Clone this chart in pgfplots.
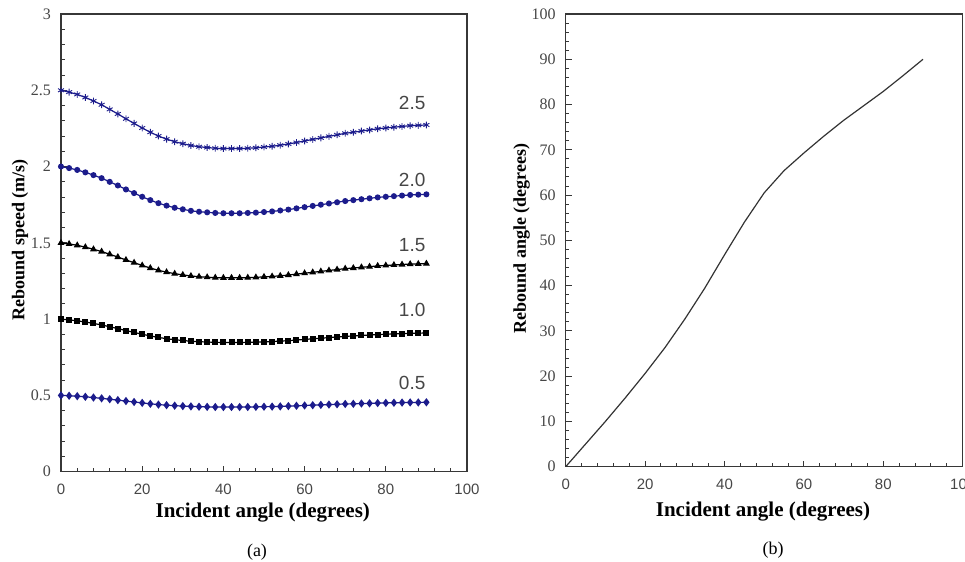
\documentclass[border=0pt]{standalone}
\usepackage{fontspec}
\setmainfont{Liberation Serif}
\setsansfont{Liberation Sans}
\usepackage{pgfplots}
\usepackage{pgfplotstable}
\pgfplotsset{compat=1.18}
\definecolor{navyb}{RGB}{28,28,140}
\definecolor{axgray}{RGB}{55,55,55}
\definecolor{lblgray}{RGB}{70,70,70}

\pgfplotstableread{
th v05 v10 v15 v20 v25
0 0.500 1.000 1.500 2.000 2.500
2 0.498 0.995 1.493 1.990 2.488
4 0.495 0.989 1.484 1.978 2.473
6 0.491 0.981 1.472 1.962 2.453
8 0.486 0.972 1.458 1.944 2.430
10 0.481 0.962 1.443 1.924 2.405
12 0.475 0.950 1.425 1.900 2.375
14 0.469 0.938 1.407 1.876 2.345
16 0.463 0.925 1.388 1.850 2.313
18 0.457 0.913 1.370 1.826 2.283
20 0.451 0.901 1.352 1.802 2.253
22 0.445 0.890 1.335 1.780 2.225
24 0.440 0.880 1.320 1.760 2.200
26 0.436 0.872 1.308 1.744 2.180
28 0.433 0.865 1.298 1.730 2.163
30 0.430 0.860 1.290 1.720 2.150
32 0.428 0.855 1.283 1.710 2.138
34 0.426 0.852 1.278 1.704 2.130
36 0.425 0.850 1.275 1.700 2.125
38 0.424 0.848 1.272 1.696 2.120
40 0.424 0.847 1.271 1.694 2.118
42 0.424 0.847 1.271 1.694 2.118
44 0.424 0.847 1.271 1.694 2.118
46 0.424 0.848 1.272 1.696 2.120
48 0.425 0.849 1.274 1.698 2.123
50 0.426 0.851 1.277 1.702 2.128
52 0.427 0.853 1.280 1.706 2.133
54 0.428 0.856 1.284 1.712 2.140
56 0.430 0.859 1.289 1.718 2.148
58 0.432 0.863 1.295 1.726 2.158
60 0.434 0.867 1.301 1.734 2.168
62 0.436 0.871 1.307 1.742 2.178
64 0.438 0.875 1.313 1.750 2.188
66 0.440 0.879 1.319 1.758 2.198
68 0.442 0.883 1.325 1.766 2.208
70 0.444 0.887 1.331 1.774 2.218
72 0.445 0.890 1.335 1.780 2.225
74 0.447 0.893 1.340 1.786 2.233
76 0.448 0.896 1.344 1.792 2.240
78 0.450 0.899 1.349 1.798 2.248
80 0.451 0.901 1.352 1.802 2.253
82 0.452 0.903 1.355 1.806 2.258
84 0.453 0.905 1.358 1.810 2.263
86 0.454 0.907 1.361 1.814 2.268
88 0.454 0.908 1.362 1.816 2.270
90 0.455 0.909 1.364 1.818 2.273
}\speeddata

\pgfplotstableread{
th r
0 0
5 5.0
10 10.0
15 15.2
20 20.6
25 26.3
30 32.6
35 39.4
40 46.8
45 54.0
50 60.5
55 65.4
60 69.3
65 73.0
70 76.5
75 79.7
80 82.9
85 86.4
90 90.0
}\angdata

\pgfplotsset{
  panel/.style={
    scale only axis,
    tick align=inside,
    xtick pos=bottom, ytick pos=left,
    major tick length=3pt, minor tick length=1.8pt,
    axis line style={axgray, line width=0.75pt},
    every tick/.style={axgray, line width=0.5pt},
    /pgf/number format/assume math mode=true,
    xticklabel style={font=\sffamily\fontsize{7.5}{9}\selectfont, text=lblgray, yshift=-2.5pt},
    yticklabel style={font=\fontsize{8}{9}\selectfont, text=lblgray, xshift=-1.5pt},
    xlabel style={font=\fontsize{10.5}{12}\selectfont\bfseries, anchor=center},
    ylabel style={font=\fontsize{9}{11}\selectfont\bfseries, anchor=center},
    minor x tick num=4, minor y tick num=4,
  }
}

\begin{document}
\begin{tikzpicture}
\path[use as bounding box] (0pt,0pt) rectangle (482.5pt,-281pt);

\begin{axis}[panel,
  at={(30.5pt,-235.85pt)}, anchor=south west,
  width=203pt, height=228.85pt,
  xmin=0, xmax=100, ymin=0, ymax=3,
  xtick={0,20,...,100}, ytick={0,0.5,1,1.5,2,2.5,3},
  yticklabels={0,0.5,1,1.5,2,2.5,3},
  xlabel={Incident angle (degrees)},
  ylabel={Rebound speed (m/s)},
  xlabel style={at={(axis description cs:0.497,-0.09)}},
  ylabel style={at={(axis description cs:-0.101,0.507)}},
]
\addplot[navyb, line width=0.6pt, mark=diamond*, mark size=1.6pt] table[x=th,y=v05]{\speeddata};
\addplot[black, line width=0.6pt, mark=square*, mark size=1.2pt] table[x=th,y=v10]{\speeddata};
\addplot[black, line width=0.6pt, mark=triangle*, mark size=1.4pt] table[x=th,y=v15]{\speeddata};
\addplot[navyb, line width=0.6pt, mark=*, mark size=1.2pt] table[x=th,y=v20]{\speeddata};
\addplot[navyb, line width=0.6pt, mark=asterisk, mark size=1.7pt, mark options={line width=0.45pt}] table[x=th,y=v25]{\speeddata};
\begin{scope}[every node/.style={font=\sffamily\fontsize{9.5}{11}\selectfont, text=lblgray}]
\node at (axis cs:86.5,2.416) {2.5};
\node at (axis cs:86.5,1.91) {2.0};
\node at (axis cs:86.5,1.486) {1.5};
\node at (axis cs:86.5,1.06) {1.0};
\node at (axis cs:86.5,0.58) {0.5};
\end{scope}
\end{axis}

\begin{axis}[panel,
  at={(282.85pt,-233.35pt)}, anchor=south west,
  width=198.5pt, height=226.35pt,
  xmin=0, xmax=100, ymin=0, ymax=100,
  xtick={0,20,...,100}, ytick={0,10,...,100},
  xlabel={Incident angle (degrees)},
  ylabel={Rebound angle (degrees)},
  xlabel style={at={(axis description cs:0.497,-0.099)}},
  ylabel style={at={(axis description cs:-0.111,0.504)}},
]
\addplot[black!80, line width=0.6pt] table[x=th,y=r]{\angdata};
\end{axis}

\node[font=\fontsize{9}{11}\selectfont] at (128.5pt,-275.85pt) {(a)};
\node[font=\fontsize{9}{11}\selectfont] at (386.5pt,-275pt) {(b)};
\end{tikzpicture}
\end{document}
